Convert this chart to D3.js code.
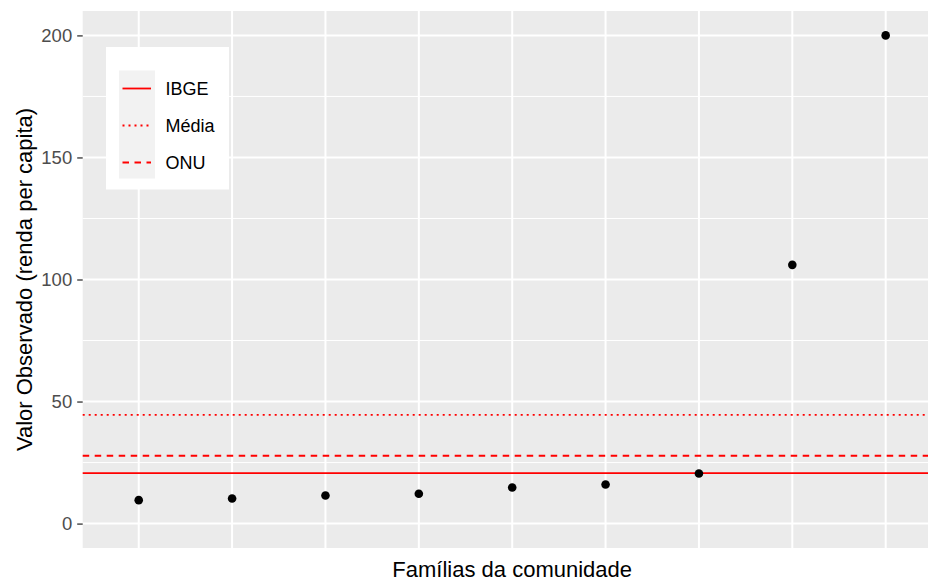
<!DOCTYPE html>
<html>
<head>
<meta charset="utf-8">
<script src="https://cdn.jsdelivr.net/npm/d3@7"></script>
<style>
  html, body { margin: 0; padding: 0; background: #fff; }
  svg { display: block; font-family: "Liberation Sans", Arial, sans-serif; }
</style>
</head>
<body>
<svg id="chart" width="928" height="581"></svg>
<script>
// Per-capita income observed for each family of the community
const familias = ["F1", "F2", "F3", "F4", "F5", "F6", "F7", "F8", "F9"];
const valores = [9.6, 10.3, 11.5, 12.2, 14.8, 16.0, 20.5, 106.0, 200];

// Reference lines
const refNomes = ["IBGE", "Média", "ONU"];
const refValores = [20.7, d3.mean(valores), 27.8];
const refTracos = [null, "2,4", "6.5,5.5"];

const yTicks = [0, 50, 100, 150, 200];
const yMinor = [25, 75, 125, 175];

const svg = d3.select("#chart");
const panel = { left: 82.7, right: 941.7, top: 11, bottom: 548 };

const x = d3.scalePoint()
  .domain(familias)
  .range([panel.left, panel.right])
  .padding(0.6);

const y = d3.scaleLinear()
  .domain([-10, 210])
  .range([panel.bottom, panel.top]);

// Panel background
svg.append("rect")
  .attr("x", panel.left).attr("y", panel.top)
  .attr("width", panel.right - panel.left)
  .attr("height", panel.bottom - panel.top)
  .attr("fill", "#EBEBEB");

// Grid
const grid = svg.append("g");
grid.selectAll("line.minor").data(yMinor).join("line")
  .attr("class", "minor")
  .attr("x1", panel.left).attr("x2", panel.right)
  .attr("y1", d => y(d)).attr("y2", d => y(d))
  .attr("stroke", "#fff").attr("stroke-width", 1);
grid.selectAll("line.major").data(yTicks).join("line")
  .attr("class", "major")
  .attr("x1", panel.left).attr("x2", panel.right)
  .attr("y1", d => y(d)).attr("y2", d => y(d))
  .attr("stroke", "#fff").attr("stroke-width", 2);
grid.selectAll("line.vert").data(familias).join("line")
  .attr("class", "vert")
  .attr("x1", d => x(d)).attr("x2", d => x(d))
  .attr("y1", panel.top).attr("y2", panel.bottom)
  .attr("stroke", "#fff").attr("stroke-width", 2);

// Reference lines
svg.append("g").selectAll("line").data(refValores).join("line")
  .attr("x1", panel.left).attr("x2", panel.right)
  .attr("y1", d => y(d)).attr("y2", d => y(d))
  .attr("stroke", "#FF0000").attr("stroke-width", 1.8)
  .attr("stroke-dasharray", (d, i) => refTracos[i]);

// Points
svg.append("g").selectAll("circle").data(valores).join("circle")
  .attr("cx", (d, i) => x(familias[i]))
  .attr("cy", d => y(d))
  .attr("r", 4.3)
  .attr("fill", "#000");

// Y axis
const yAxis = d3.axisLeft(y).tickValues(yTicks).tickSize(5.5).tickPadding(5);
const gy = svg.append("g")
  .attr("transform", `translate(${panel.left},0)`)
  .call(yAxis);
gy.select(".domain").remove();
gy.selectAll(".tick line").attr("stroke", "#333").attr("stroke-width", 1.3);
gy.selectAll(".tick text")
  .attr("fill", "#4D4D4D")
  .attr("font-size", "18.5px")
  .attr("font-family", "Liberation Sans, Arial, sans-serif");

// Axis titles
svg.append("text")
  .attr("x", (panel.left + panel.right) / 2)
  .attr("y", 577)
  .attr("text-anchor", "middle")
  .attr("font-size", "22px")
  .attr("fill", "#000")
  .text("Famílias da comunidade");

svg.append("text")
  .attr("transform", `translate(31.5,${(panel.top + panel.bottom) / 2}) rotate(-90)`)
  .attr("text-anchor", "middle")
  .attr("font-size", "22px")
  .attr("fill", "#000")
  .text("Valor Observado (renda per capita)");

// Legend
const legend = svg.append("g");
legend.append("rect")
  .attr("x", 106).attr("y", 47)
  .attr("width", 123).attr("height", 142.5)
  .attr("fill", "#fff");
legend.append("rect")
  .attr("x", 119).attr("y", 70.5)
  .attr("width", 36).attr("height", 108)
  .attr("fill", "#F2F2F2");
const rows = legend.selectAll("g.row").data(refNomes).join("g")
  .attr("class", "row")
  .attr("transform", (d, i) => `translate(0,${88.5 + i * 37})`);
rows.append("line")
  .attr("x1", 122.5).attr("x2", 151)
  .attr("y1", 0).attr("y2", 0)
  .attr("stroke", "#FF0000").attr("stroke-width", 1.8)
  .attr("stroke-dasharray", (d, i) => refTracos[i]);
rows.append("text")
  .attr("x", 165.5).attr("y", 0)
  .attr("dy", "0.35em")
  .attr("font-size", "18px")
  .attr("fill", "#000")
  .text(d => d);
</script>
</body>
</html>
